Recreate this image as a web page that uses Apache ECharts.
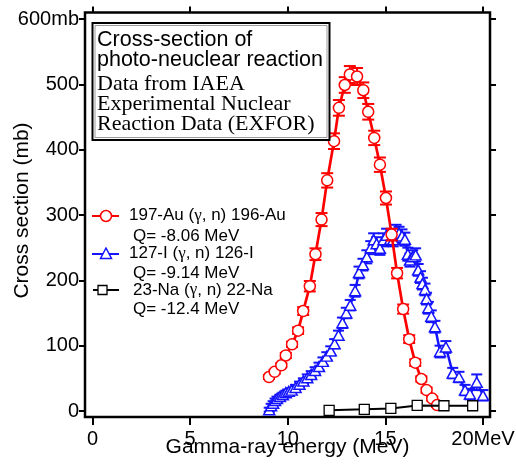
<!DOCTYPE html>
<html><head><meta charset="utf-8">
<script src="https://cdn.jsdelivr.net/npm/echarts@6/dist/echarts.min.js"></script>
<style>html,body{margin:0;padding:0;background:#fff}#c{width:516px;height:466px}</style>
</head><body><div id="c"></div>
<script>
// ---- data ----
const xTicks = [0, 5, 10, 15, 20];
const xTickLabels = ['0', '5', '10', '15', '20MeV'];
const yTicks = [0, 100, 200, 300, 400, 500, 600];
const yTickLabels = ['0', '100', '200', '300', '400', '500', '600mb'];

// 197-Au (gamma, n) 196-Au
const auEnergy = [9.04,9.33,9.67,9.9,10.22,10.53,10.79,11.13,11.42,11.73,12.02,12.37,12.62,12.92,13.18,13.55,13.87,14.12,14.43,14.72,15.03,15.32,15.6,15.91,16.22,16.53,16.84,17.11,17.4,17.65];
const auCross  = [52,60,70,85,102,123,153,191,240,293,353,413,464,499,515,512,491,458,418,377,326,270,211,156,110,74,49,32,19,9];
const auErr    = [3,3,3,4,4,5,6,8,9,10,11,12,12,12,13,13,12,12,11,11,10,9,8,7,6,5,4,4,3,3];

// 127-I (gamma, n) 126-I
const iEnergy = [9.05,9.15,9.25,9.35,9.45,9.6,9.75,9.9,10.05,10.2,10.4,10.6,10.8,11.0,11.2,11.4,11.6,11.8,12.0,12.2,12.4,12.6,12.8,13.0,13.2,13.45,13.65,13.85,14.05,14.25,14.4,14.55,14.72,14.9,15.06,15.25,15.4,15.55,15.7,15.85,16.0,16.15,16.26,16.4,16.55,16.68,16.8,16.9,17.03,17.11,17.2,17.35,17.54,17.8,18.1,18.45,18.77,19.08,19.33,19.68,20.0];
const iCross  = [2,8,12,16,19,22,25,28,30,32,36,41,46,51,56,62,68,76,84,92,103,116,135,150,162,184,212,224,236,250,262,256,249,262,269,263,262,275,272,268,263,240,231,236,239,216,205,195,186,172,158,145,129,91,98,58,52,32,26,44,24];
const iErr    = [3,3,3,3,3,3,3,3,3,3,4,4,4,5,5,5,6,6,6,7,7,7,8,8,8,9,9,9,10,10,10,10,10,10,10,10,10,10,10,10,10,10,10,10,10,9,9,9,9,9,9,9,9,9,9,8,8,8,8,12,8];

// 23-Na (gamma, n) 22-Na
const naEnergy = [12.12,13.92,15.28,16.63,18.0,19.47];
const naCross  = [1,2.5,4,8.5,8,8];
const naErr    = [2,2,2,3,3,3];

// ---- chart ----
const RED = '#ff0000', BLUE = '#1414ff', BLACK = '#000000';
const SANS = 'Liberation Sans, Arial, Helvetica, sans-serif';
const SERIF = 'Liberation Serif, Times New Roman, serif';

function pairs(xs, ys) { return xs.map((x, i) => [x, ys[i]]); }
function triples(xs, ys, es) { return xs.map((x, i) => [x, ys[i], es[i]]); }

function errRender(color, capW, lw) {
  return function (params, api) {
    const x = api.value(0), y = api.value(1), e = api.value(2);
    const lo = api.coord([x, y - e]), hi = api.coord([x, y + e]);
    const h = capW / 2;
    const st = { stroke: color, lineWidth: lw };
    return { type: 'group', children: [
      { type: 'line', shape: { x1: lo[0], y1: lo[1], x2: hi[0], y2: hi[1] }, style: st },
      { type: 'line', shape: { x1: lo[0] - h, y1: lo[1], x2: lo[0] + h, y2: lo[1] }, style: st },
      { type: 'line', shape: { x1: hi[0] - h, y1: hi[1], x2: hi[0] + h, y2: hi[1] }, style: st }
    ]};
  };
}

const X0 = 92.5, X20 = 483, GL = 85, GR = 490;
const kx = (X20 - X0) / 20;
const xMin = -(X0 - GL) / kx, xMax = 20 + (GR - X20) / kx;
const Y0 = 411, Y600 = 19, GT = 12.5, GB = 417;
const ky = (Y0 - Y600) / 600;
const yMax = 600 + (Y600 - GT) / ky, yMin = -(GB - Y0) / ky;

const tickStyle = { color: '#000', width: 2 };
const labelStyle = { color: '#000', fontSize: 20, fontFamily: SANS };
const noLine = { show: false, onZero: false };

const chart = echarts.init(document.getElementById('c'), null, { renderer: 'canvas' });
chart.setOption({
  animation: false,
  backgroundColor: '#fff',
  grid: { left: GL, right: 516 - GR, top: GT, bottom: 466 - GB, containLabel: false, outerBoundsMode: 'none',
    show: true, borderColor: '#000', borderWidth: 2.5, backgroundColor: 'transparent' },
  xAxis: [
    { type: 'value', position: 'bottom', min: xMin, max: xMax,
      axisLine: noLine, splitLine: { show: false },
      axisTick: { show: true, customValues: xTicks, length: 8, lineStyle: tickStyle },
      axisLabel: Object.assign({ customValues: xTicks, margin: 12.5,
        formatter: v => xTickLabels[xTicks.indexOf(Math.round(v))] }, labelStyle),
      name: 'Gamma-ray energy (MeV)', nameLocation: 'middle', nameGap: 20, nameMoveOverlap: false,
      nameTextStyle: { color: '#000', fontSize: 21, fontFamily: SANS } },
    { type: 'value', position: 'top', min: xMin, max: xMax,
      axisLine: noLine, splitLine: { show: false },
      axisTick: { show: true, customValues: xTicks, length: 6, lineStyle: tickStyle },
      axisLabel: { show: false } }
  ],
  yAxis: [
    { type: 'value', position: 'left', min: yMin, max: yMax,
      axisLine: noLine, splitLine: { show: false },
      axisTick: { show: true, customValues: yTicks, length: 6, lineStyle: tickStyle },
      axisLabel: Object.assign({ customValues: yTicks, margin: 6,
        formatter: v => yTickLabels[yTicks.indexOf(Math.round(v))] }, labelStyle) },
    { type: 'value', position: 'right', min: yMin, max: yMax,
      axisLine: noLine, splitLine: { show: false },
      axisTick: { show: true, customValues: yTicks, length: 6, lineStyle: tickStyle },
      axisLabel: { show: false } }
  ],
  series: [
    { type: 'custom', name: 'I err', renderItem: errRender(BLUE, 11, 2), encode: { x: 0, y: 1 },
      data: triples(iEnergy, iCross, iErr), z: 2 },
    { type: 'line', name: '127-I', data: pairs(iEnergy, iCross), symbol: 'triangle', symbolSize: [11, 10],
      lineStyle: { color: BLUE, width: 2.5 }, itemStyle: { color: '#fff', borderColor: BLUE, borderWidth: 1.5 }, z: 3 },
    { type: 'custom', name: 'Au err', renderItem: errRender(RED, 12, 2), encode: { x: 0, y: 1 },
      data: triples(auEnergy, auCross, auErr), z: 4 },
    { type: 'line', name: '197-Au', data: pairs(auEnergy, auCross), symbol: 'circle', symbolSize: 11,
      lineStyle: { color: RED, width: 2.7 }, itemStyle: { color: '#fff', borderColor: RED, borderWidth: 1.5 }, z: 5 },
    { type: 'custom', name: 'Na err', renderItem: errRender(BLACK, 8, 1.5), encode: { x: 0, y: 1 },
      data: triples(naEnergy, naCross, naErr), z: 6 },
    { type: 'line', name: '23-Na', data: pairs(naEnergy, naCross), symbol: 'rect', symbolSize: 10,
      lineStyle: { color: BLACK, width: 2 }, itemStyle: { color: '#fff', borderColor: BLACK, borderWidth: 1.3 }, z: 7 }
  ],
  graphic: [
    // y axis title
    { type: 'text', x: 22, y: 210.5, rotation: Math.PI / 2,
      style: { text: 'Cross section (mb)', font: '21px ' + SANS, fill: '#000', textAlign: 'center', textVerticalAlign: 'middle' } },
    // info box
    { type: 'rect', shape: { x: 92.5, y: 23, width: 237, height: 117 }, style: { fill: '#fff', stroke: '#000', lineWidth: 2 }, z: 100 },
    { type: 'rect', shape: { x: 95, y: 25.5, width: 232, height: 112 }, style: { fill: 'none', stroke: '#9a9a9a', lineWidth: 1 }, z: 101 },
    { type: 'text', x: 97, y: 40.5, z: 102, style: { text: 'Cross-section of', font: '21.5px ' + SANS, fill: '#000', textVerticalAlign: 'middle' } },
    { type: 'text', x: 97, y: 60.5, z: 102, style: { text: 'photo-neuclear reaction', font: '21.5px ' + SANS, fill: '#000', textVerticalAlign: 'middle' } },
    { type: 'text', x: 97, y: 84, z: 102, style: { text: 'Data from IAEA', font: '22px ' + SERIF, fill: '#000', textVerticalAlign: 'middle' } },
    { type: 'text', x: 97, y: 104, z: 102, style: { text: 'Experimental Nuclear', font: '22px ' + SERIF, fill: '#000', textVerticalAlign: 'middle' } },
    { type: 'text', x: 97, y: 124, z: 102, style: { text: 'Reaction Data (EXFOR)', font: '22px ' + SERIF, fill: '#000', textVerticalAlign: 'middle' } },
    // legend: Au
    { type: 'line', shape: { x1: 92, y1: 216, x2: 119, y2: 216 }, style: { stroke: RED, lineWidth: 2 }, z: 100 },
    { type: 'circle', shape: { cx: 106, cy: 216, r: 5.5 }, style: { fill: '#fff', stroke: RED, lineWidth: 1.5 }, z: 101 },
    { type: 'text', x: 129, y: 215.7, z: 102, style: { text: '{a|197-Au (}{g|γ}{a|, n) 196-Au}', textVerticalAlign: 'middle',
      rich: { a: { font: '17px ' + SANS, fill: '#000' }, g: { font: '17px ' + SERIF, fill: '#000' } } } },
    { type: 'text', x: 133, y: 236.3, z: 102, style: { text: 'Q= -8.06 MeV', font: '17px ' + SANS, fill: '#000', textVerticalAlign: 'middle' } },
    // legend: I
    { type: 'line', shape: { x1: 92, y1: 254, x2: 119, y2: 254 }, style: { stroke: BLUE, lineWidth: 2 }, z: 100 },
    { type: 'polygon', shape: { points: [[106, 248], [111.5, 258.5], [100.5, 258.5]] }, style: { fill: '#fff', stroke: BLUE, lineWidth: 1.5 }, z: 101 },
    { type: 'text', x: 129, y: 253.3, z: 102, style: { text: '{a|127-I (}{g|γ}{a|, n) 126-I}', textVerticalAlign: 'middle',
      rich: { a: { font: '17px ' + SANS, fill: '#000' }, g: { font: '17px ' + SERIF, fill: '#000' } } } },
    { type: 'text', x: 133, y: 273.3, z: 102, style: { text: 'Q= -9.14 MeV', font: '17px ' + SANS, fill: '#000', textVerticalAlign: 'middle' } },
    // legend: Na
    { type: 'line', shape: { x1: 93, y1: 290, x2: 119, y2: 290 }, style: { stroke: BLACK, lineWidth: 2 }, z: 100 },
    { type: 'rect', shape: { x: 98, y: 285.5, width: 9, height: 9 }, style: { fill: '#fff', stroke: BLACK, lineWidth: 1.3 }, z: 101 },
    { type: 'text', x: 133, y: 290, z: 102, style: { text: '{a|23-Na (}{g|γ}{a|, n) 22-Na}', textVerticalAlign: 'middle',
      rich: { a: { font: '17px ' + SANS, fill: '#000' }, g: { font: '17px ' + SERIF, fill: '#000' } } } },
    { type: 'text', x: 133, y: 309, z: 102, style: { text: 'Q= -12.4 MeV', font: '17px ' + SANS, fill: '#000', textVerticalAlign: 'middle' } }
  ]
});
</script>
</body></html>
